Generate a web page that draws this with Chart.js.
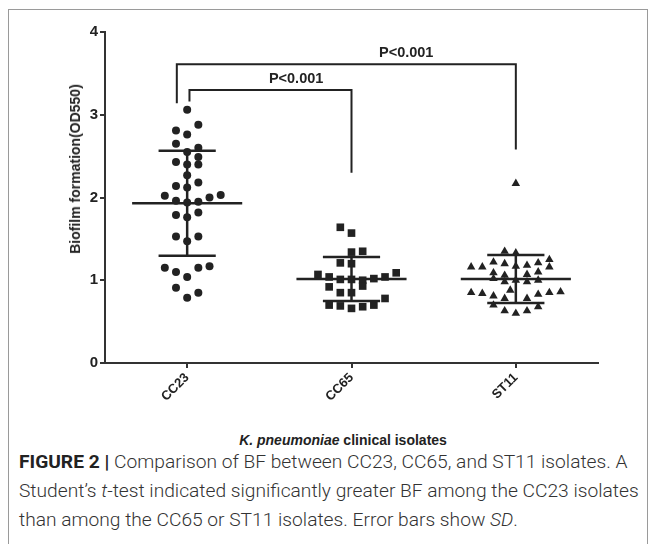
<!DOCTYPE html>
<html>
<head>
<meta charset="utf-8">
<script src="https://cdn.jsdelivr.net/npm/chart.js@4.4.1/dist/chart.umd.min.js"></script>
<style>
  html, body { margin: 0; padding: 0; background: #fff; }
  body { width: 655px; height: 544px; position: relative; overflow: hidden; font-family: "Liberation Sans", Arial, sans-serif; }
  #frame { position: absolute; left: 8px; top: 9px; width: 638px; height: 600px; border: 1px solid #9a9a9a; }
  #wrap { position: absolute; left: 0; top: 0; width: 655px; height: 430px; }
  #ytitle { position: absolute; left: 75px; top: 169px; transform: translate(-50%, -50%) rotate(-90deg); white-space: nowrap; font-weight: bold; font-size: 14px; color: #222; }
  #xtitle { position: absolute; left: 343px; top: 440px; transform: translate(-50%, -50%); white-space: nowrap; font-weight: bold; font-size: 14px; color: #222; }
  #caption { position: absolute; left: 19px; top: 447px; font-family: Roboto, "Liberation Sans", sans-serif; font-weight: 300; font-size: 19.2px; line-height: 29px; color: #333; white-space: nowrap; }
  #caption b { color: #222; font-weight: bold; }
</style>
</head>
<body>
<div id="frame"></div>
<div id="wrap"><canvas id="chart"></canvas></div>
<div id="ytitle">Biofilm formation(OD550)</div>
<div id="xtitle"><i>K. pneumoniae</i> clinical isolates</div>
<div id="caption"><b>FIGURE 2 |</b> Comparison of BF between CC23, CC65, and ST11 isolates. A<br>Student’s <i>t</i>-test indicated significantly greater BF among the CC23 isolates<br>than among the CC65 or ST11 isolates. Error bars show <i>SD</i>.</div>

<script>
  const categorias = ['CC23', 'CC65', 'ST11'];
  const yTicks = [0, 1, 2, 3, 4];

  // valores por grupo y columna del "scatter" (desplazamiento horizontal en pasos)
  const valoresCC23 = [3.06, 2.88, 2.81, 2.76, 2.65, 2.60, 2.55, 2.49, 2.43, 2.40, 2.40, 2.27, 2.18, 2.14, 2.12,
    2.02, 1.96, 1.94, 1.95, 2.00, 2.03, 1.79, 1.82, 1.76, 1.53, 1.53, 1.47, 1.15, 1.10, 1.04, 1.15, 1.17, 0.91, 0.85, 0.79];
  const columnasCC23 = [0, 1, -1, 0, -1, 1, 0, 1, -1, 0, 1, 0, 1, -1, 0,
    -2, -1, 0, 1, 2, 3, -1, 1, 0, -1, 1, 0, -2, -1, 0, 1, 2, -1, 1, 0];

  const valoresCC65 = [1.64, 1.57, 1.34, 1.35, 1.21, 1.20, 1.07, 1.04, 1.01, 1.01, 1.00, 1.02, 1.04, 1.09,
    0.92, 0.93, 0.85, 0.85, 0.78, 0.70, 0.69, 0.66, 0.68, 0.70];
  const columnasCC65 = [-1, 0, 0, 1, -1, 0, -3, -2, -1, 0, 1, 2, 3, 4,
    -2, 1, -1, 0, 3, -2, -1, 0, 1, 2];

  const valoresST11 = [2.17, 1.35, 1.33, 1.16, 1.16, 1.22, 1.20, 1.17, 1.18, 1.21, 1.25, 1.16, 1.10, 1.09, 1.06, 1.07,
    1.02, 0.98, 1.00, 0.98, 1.00, 0.88, 0.85, 0.84, 0.81, 0.78, 0.78, 0.83, 0.85, 0.86, 0.70, 0.63, 0.60, 0.63, 0.68];
  const columnasST11 = [0, -1, 0, -4, -3, -2, -1, 0, 1, 2, 3, 3, 2, -2, -1, 1,
    -2, -1, 0, 1, 2, -0.5, -4, -3, -2, -1, 1, 2, 3, 4, -2, -1, 0, 1, 2];

  const medias = [1.93, 1.015, 1.015];
  const desvios = [0.635, 0.265, 0.29];

  // comparaciones: [grupo izq, grupo der], altura del corchete, bajada izq, bajada der
  const compGrupos = [[0, 2], [0, 1]];
  const compAltura = [3.61, 3.30];
  const compBajadaIzq = [3.14, 3.16];
  const compBajadaDer = [2.58, 2.30];
  const compTexto = ['P<0.001', 'P<0.001'];
  // posición horizontal (en unidades de grupo) del texto de cada comparación
  const compTextoX = [1.333, 0.663];

  const PASO_COL = 0.068;
  const ANCHO_MEDIA = 0.335;
  const ANCHO_SD = 0.174;
  const NEGRO = '#222';
  const FUENTE = '"Liberation Sans", Arial, sans-serif';

  function puntos(grupo, valores, columnas) {
    return valores.map((v, i) => ({ x: grupo + columnas[i] * PASO_COL, y: v }));
  }

  function linea(data, ancho) {
    return {
      type: 'scatter', data, showLine: true, pointRadius: 0, pointHoverRadius: 0,
      borderColor: NEGRO, borderWidth: ancho, fill: false, tension: 0
    };
  }

  const datasets = [
    { label: 'CC23', data: puntos(0, valoresCC23, columnasCC23), pointStyle: 'circle', pointRadius: 4, backgroundColor: NEGRO, borderWidth: 0 },
    { label: 'CC65', data: puntos(1, valoresCC65, columnasCC65), pointStyle: 'rect', pointRadius: 5.4, backgroundColor: NEGRO, borderWidth: 0 },
    { label: 'ST11', data: puntos(2, valoresST11, columnasST11), pointStyle: 'triangle', pointRadius: 4.9, backgroundColor: NEGRO, borderWidth: 0 }
  ];

  medias.forEach((m, g) => {
    const sd = desvios[g];
    datasets.push(linea([{ x: g - ANCHO_MEDIA, y: m }, { x: g + ANCHO_MEDIA, y: m }], 2.5));
    datasets.push(linea([{ x: g - ANCHO_SD, y: m + sd }, { x: g + ANCHO_SD, y: m + sd }], 2.5));
    datasets.push(linea([{ x: g - ANCHO_SD, y: m - sd }, { x: g + ANCHO_SD, y: m - sd }], 2.5));
    datasets.push(linea([{ x: g, y: m - sd }, { x: g, y: m + sd }], 2.5));
  });

  compGrupos.forEach(([a, b], i) => {
    const xa = a + (i === 0 ? -0.063 : 0.014);
    datasets.push(linea([
      { x: xa, y: compBajadaIzq[i] }, { x: xa, y: compAltura[i] },
      { x: b, y: compAltura[i] }, { x: b, y: compBajadaDer[i] }
    ], 2));
  });

  const etiquetasP = {
    id: 'etiquetasP',
    afterDatasetsDraw(chart) {
      const { ctx, scales } = chart;
      ctx.save();
      ctx.font = 'bold 14.5px ' + FUENTE;
      ctx.fillStyle = NEGRO;
      ctx.textAlign = 'center';
      ctx.textBaseline = 'bottom';
      compTexto.forEach((t, i) => {
        ctx.fillText(t, scales.x.getPixelForValue(compTextoX[i]), scales.y.getPixelForValue(compAltura[i]) - 4);
      });
      ctx.restore();
    }
  };

  new Chart(document.getElementById('chart'), {
    type: 'scatter',
    data: { datasets },
    options: {
      responsive: true,
      maintainAspectRatio: false,
      animation: false,
      layout: { padding: { top: 32, right: 57, left: 0, bottom: 0 } },
      plugins: { legend: { display: false }, tooltip: { enabled: false } },
      scales: {
        x: {
          type: 'linear', min: -0.5, max: 2.5,
          afterBuildTicks: s => { s.ticks = categorias.map((c, i) => ({ value: i })); },
          afterFit: s => { s.height = 67; },
          border: { color: '#333', width: 2 },
          grid: { drawOnChartArea: false, drawTicks: true, tickLength: 5, color: '#333', lineWidth: 2 },
          ticks: {
            callback: v => categorias[v],
            minRotation: 45, maxRotation: 45, padding: 2,
            color: NEGRO, font: { family: FUENTE, size: 13, weight: 'bold' }
          }
        },
        y: {
          min: 0, max: 4,
          afterBuildTicks: s => { s.ticks = yTicks.map(v => ({ value: v })); },
          afterFit: s => { s.width = 105; },
          border: { color: '#333', width: 2 },
          grid: { drawOnChartArea: false, drawTicks: true, tickLength: 5, color: '#333', lineWidth: 2 },
          ticks: {
            padding: 2, color: NEGRO,
            font: { family: FUENTE, size: 15, weight: 'bold' }
          }
        }
      }
    },
    plugins: [etiquetasP]
  });
</script>
</body>
</html>
